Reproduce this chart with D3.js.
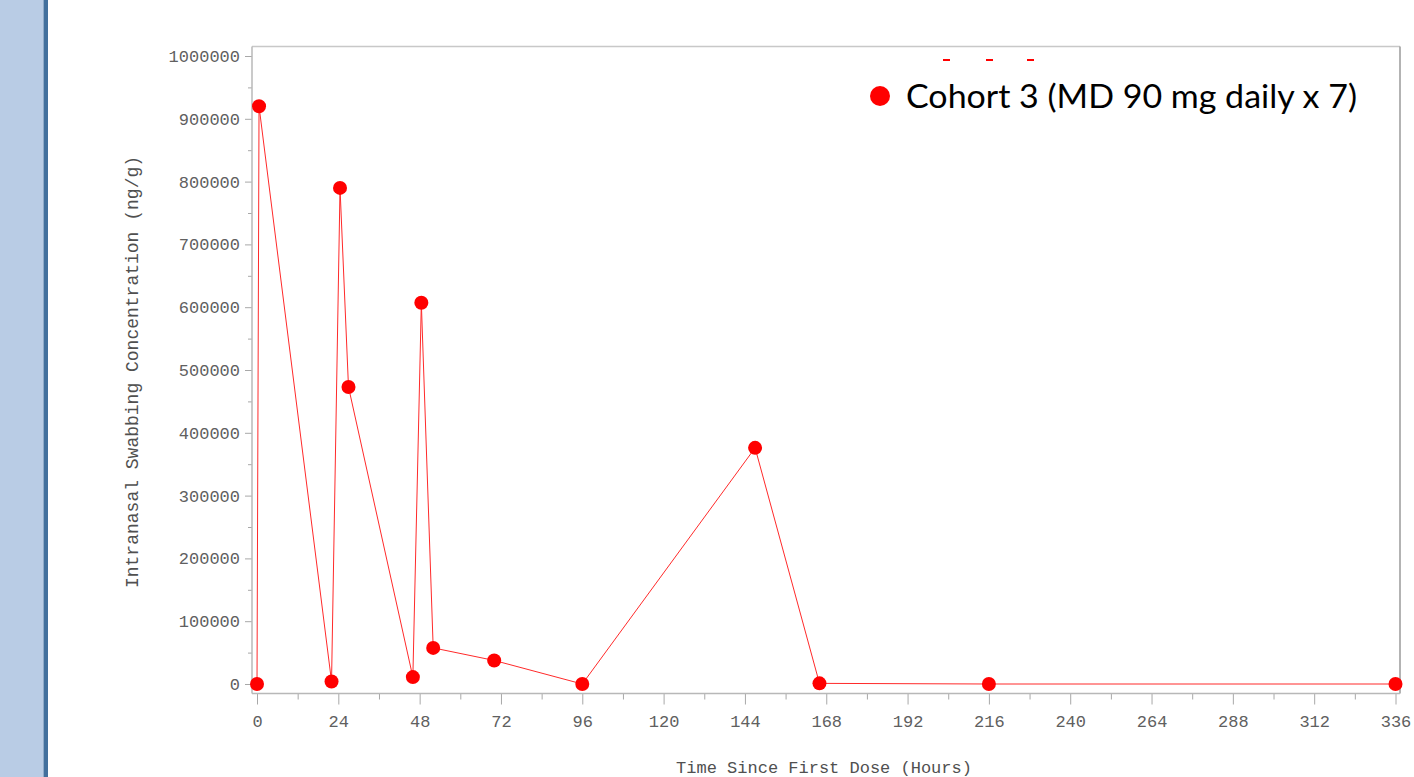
<!DOCTYPE html>
<html>
<head>
<meta charset="utf-8">
<script src="https://cdn.jsdelivr.net/npm/d3@7"></script>
<style>
  html, body { margin: 0; padding: 0; background: #fff; }
  svg { display: block; }
  .tick text { font-family: "Liberation Mono", "DejaVu Sans Mono", monospace; font-size: 17px; fill: #606060; }
</style>
</head>
<body>
<svg id="chart" width="1414" height="777"></svg>
<script>
// Sampling times (hours since first dose) and intranasal swab concentrations (ng/g)
const timeHours = [0, 0.6, 22, 24.5, 27, 46, 48.5, 52, 70, 96, 147, 166, 216, 336];
const concentration = [0, 920000, 4000, 790000, 473000, 11000, 607000, 57500, 37500, 0, 376000, 1000, 0, 0];

const xMajorTicks = [0, 24, 48, 72, 96, 120, 144, 168, 192, 216, 240, 264, 288, 312, 336];
const xMinorTicks = [12, 36, 60, 84, 108, 132, 156, 180, 204, 228, 252, 276, 300, 324];
const yMajorTicks = [0, 100000, 200000, 300000, 400000, 500000, 600000, 700000, 800000, 900000, 1000000];
const yMinorTicks = [50000, 150000, 250000, 350000, 450000, 550000, 650000, 750000, 850000, 950000];

const seriesLabel = "Cohort 3 (MD 90 mg daily x 7)";
const xTitle = "Time Since First Dose (Hours)";
const yTitle = "Intranasal Swabbing Concentration (ng/g)";

const svg = d3.select("#chart");

// Slide side band
svg.append("rect").attr("x", 0).attr("y", 0).attr("width", 43.5).attr("height", 777).attr("fill", "#b9cce5");
svg.append("rect").attr("x", 43.5).attr("y", 0).attr("width", 4.5).attr("height", 777).attr("fill", "#43709d");

// Plot frame
const frame = { left: 252, right: 1400, top: 46.5, bottom: 693.5 };

const x = d3.scaleLinear().domain([0, 336]).range([257, 1395.5]);
const y = d3.scaleLinear().domain([0, 1000000]).range([684, 56]);

// Minor ticks (unlabelled)
const xMinor = d3.axisBottom(x).tickValues(xMinorTicks).tickSize(6).tickFormat("");
const yMinor = d3.axisLeft(y).tickValues(yMinorTicks).tickSize(4).tickFormat("");
// Major ticks
const xMajor = d3.axisBottom(x).tickValues(xMajorTicks).tickSize(11).tickPadding(10).tickFormat(d3.format("d"));
const yMajor = d3.axisLeft(y).tickValues(yMajorTicks).tickSize(7).tickPadding(5).tickFormat(d3.format("d"));

function styleAxis(g) {
  g.select(".domain").remove();
  g.selectAll(".tick line").attr("stroke", "#a8a8a8");
}

svg.append("g").attr("transform", `translate(0,${frame.bottom})`).call(xMinor).call(styleAxis);
svg.append("g").attr("transform", `translate(0,${frame.bottom})`).call(xMajor).call(styleAxis);
svg.append("g").attr("transform", `translate(${frame.left},0)`).call(yMinor).call(styleAxis);
svg.append("g").attr("transform", `translate(${frame.left},0)`).call(yMajor).call(styleAxis);

// Frame edges
svg.append("line").attr("x1", frame.left).attr("x2", frame.right).attr("y1", frame.top).attr("y2", frame.top)
  .attr("stroke", "#c8c8c8").attr("stroke-width", 1.5);
svg.append("line").attr("x1", frame.right).attr("x2", frame.right).attr("y1", frame.top).attr("y2", frame.bottom)
  .attr("stroke", "#9a9a9a").attr("stroke-width", 1.5);
svg.append("line").attr("x1", frame.left).attr("x2", frame.left).attr("y1", frame.top).attr("y2", frame.bottom)
  .attr("stroke", "#b8b8b8").attr("stroke-width", 1.5);
svg.append("line").attr("x1", frame.left).attr("x2", frame.right).attr("y1", frame.bottom).attr("y2", frame.bottom)
  .attr("stroke", "#b8b8b8").attr("stroke-width", 1.5);

// Axis titles
svg.append("text")
  .attr("x", 824).attr("y", 773)
  .attr("text-anchor", "middle")
  .attr("font-family", "Liberation Mono, DejaVu Sans Mono, monospace")
  .attr("font-size", 17).attr("fill", "#505050")
  .text(xTitle);
svg.append("text")
  .attr("transform", "translate(138,372) rotate(-90)")
  .attr("text-anchor", "middle")
  .attr("font-family", "Liberation Mono, DejaVu Sans Mono, monospace")
  .attr("font-size", 18).attr("fill", "#505050")
  .text(yTitle);

// Series line and markers
const pts = timeHours.map((t, i) => ({ t, c: concentration[i] }));
const line = d3.line().x(d => x(d.t)).y(d => y(d.c));
svg.append("path").datum(pts)
  .attr("d", line).attr("fill", "none")
  .attr("stroke", "#ff2a2a").attr("stroke-width", 1);
svg.append("g").selectAll("circle").data(pts).join("circle")
  .attr("cx", d => x(d.t)).attr("cy", d => y(d.c)).attr("r", 7)
  .attr("fill", "#ff0000");

// Legend
const legend = svg.append("g");
// remnants of markers partly hidden under the legend box
legend.selectAll("rect.rem").data([943, 986, 1027]).join("rect")
  .attr("class", "rem").attr("x", d => d).attr("y", 59).attr("width", 7).attr("height", 2)
  .attr("fill", "#ff0000");
legend.append("circle").attr("cx", 880).attr("cy", 96).attr("r", 10).attr("fill", "#ff0000");
legend.append("text")
  .attr("x", 906).attr("y", 108)
  .attr("font-family", "Lato, 'Open Sans', sans-serif")
  .attr("font-size", 33).attr("fill", "#000")
  .attr("textLength", 451).attr("lengthAdjust", "spacingAndGlyphs")
  .text(seriesLabel);
</script>
</body>
</html>
